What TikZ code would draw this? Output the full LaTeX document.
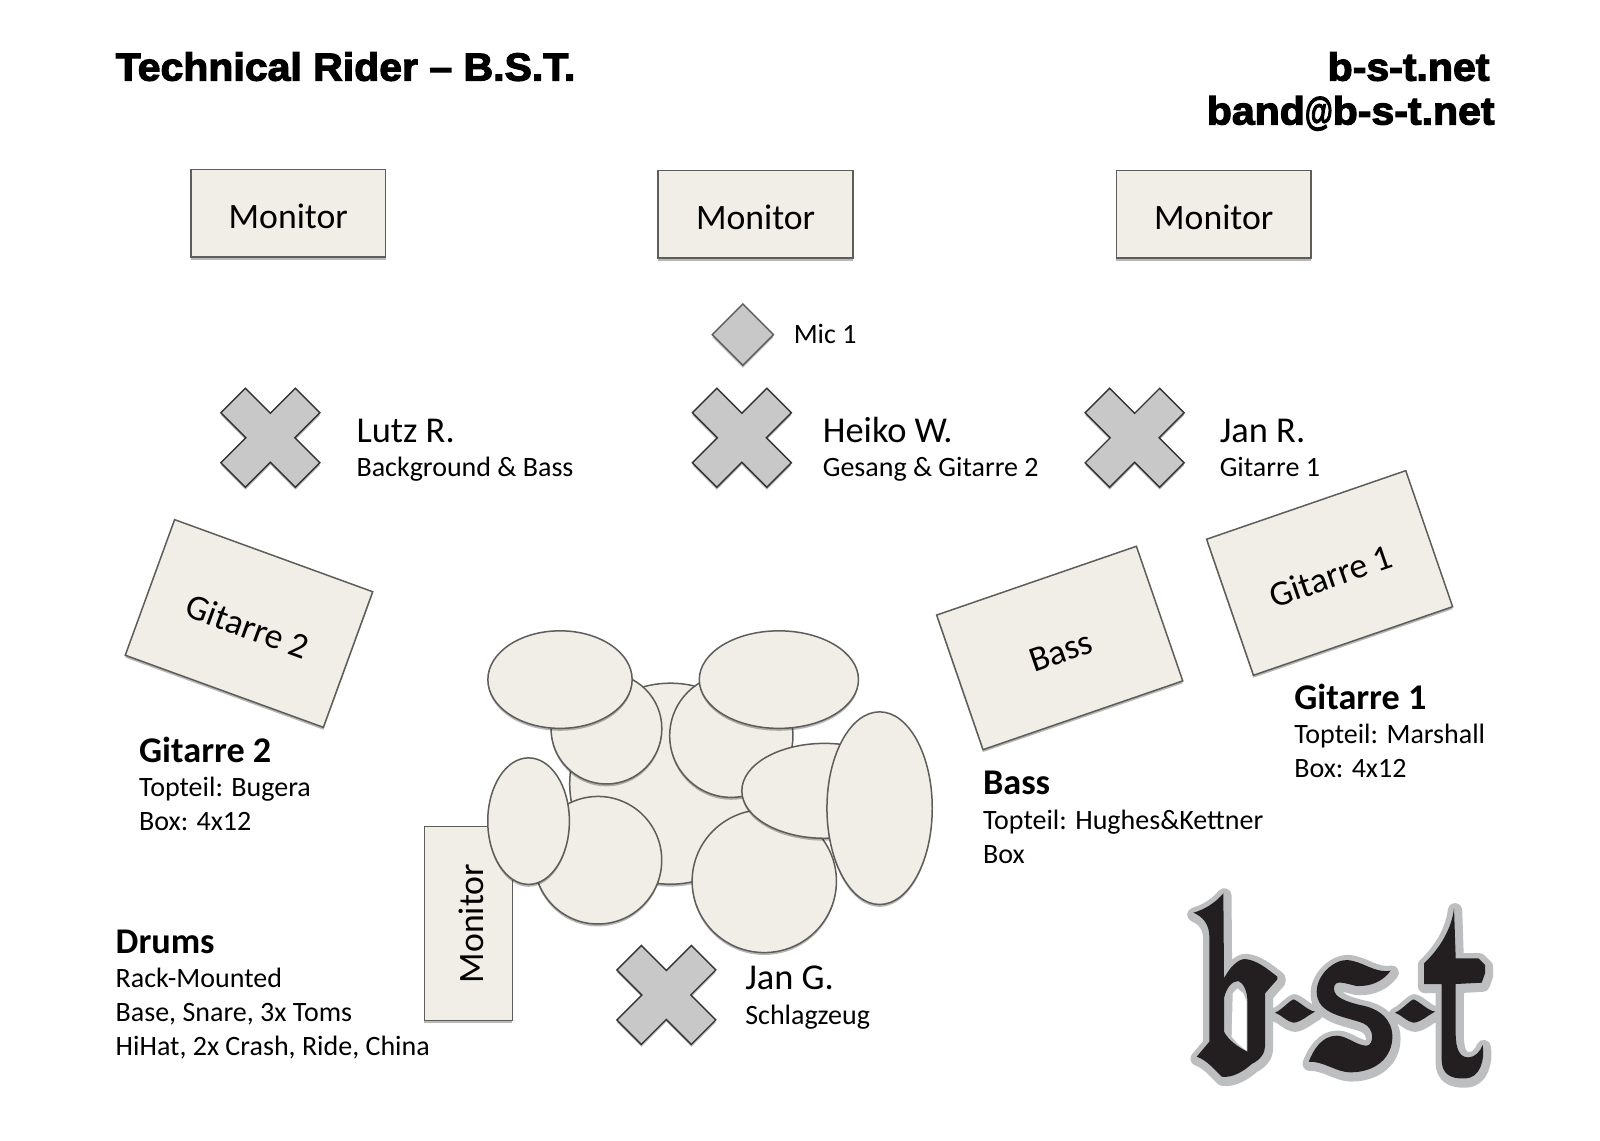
\documentclass[tikz,border=0pt]{standalone}
\usepackage{fontspec}
\usepackage{graphicx}
\setmainfont{Carlito}
\newfontfamily\blackfont[FakeBold=3,FakeStretch=1.046]{Liberation Sans Bold}
\usetikzlibrary{shapes.geometric,shadows}
\definecolor{boxfill}{HTML}{F0EEE7}
\definecolor{boxline}{HTML}{5E5D59}
\definecolor{crossfill}{HTML}{C8C8C8}
\definecolor{logodark}{HTML}{231F20}
\definecolor{logogray}{HTML}{BCBEC0}
\tikzset{
  softshadow/.style={drop shadow={shadow xshift=0pt,shadow yshift=-1.2pt,opacity=.28,fill=black}},
  boxnode/.style={draw=boxline,fill=boxfill,line width=.75pt,rectangle,inner sep=0pt,outer sep=0pt,
    minimum width=#1*.5102pt,font=\fontsize{17.85}{20}\selectfont,text height=15.2pt,text depth=0pt,softshadow},
  drum/.style n args={2}{draw=boxline,fill=boxfill,line width=.75pt,ellipse,inner sep=0pt,outer sep=0pt,
    minimum width=#1*1.0204pt,minimum height=#2*1.0204pt,softshadow},
  crossstyle/.style={draw=black!80,fill=crossfill,line width=.7pt,line join=miter,softshadow},
  persontext/.style={anchor=base west,inner sep=0pt,font=\fontsize{18.2}{20}\selectfont},
  subtext/.style={anchor=base west,inner sep=0pt,font=\fontsize{14}{16}\selectfont},
  headtext/.style={anchor=base west,inner sep=0pt,font=\fontsize{18.1}{20}\selectfont\bfseries},
  titletext/.style={inner sep=0pt,font=\blackfont\fontsize{19.6}{22}\selectfont},
  playercross/.pic={\path[crossstyle] (-24.5,-48.5)--(0,-24)--(24.5,-48.5)--(48.5,-24.5)--(24,0)--(48.5,24.5)--(24.5,48.5)--(0,24)--(-24.5,48.5)--(-48.5,24.5)--(-24,0)--(-48.5,-24.5)--cycle;}
}
\newcommand\bstOuterB{(130,158) .. controls (160,150) and (195,130) .. (220,100) -- (222,355) .. controls (240,320) and (265,297) .. (285,297) .. controls (320,300) and (350,325) .. (382,350) -- (382,358) -- (345,400) -- (345,560) .. controls (345,580) and (330,600) .. (305,612) .. controls (285,630) and (250,655) .. (215,650) .. controls (195,630) and (170,600) .. (140,590) -- (178,545) -- (178,230) .. controls (178,195) and (160,170) .. (130,158) -- cycle}
\newcommand\bstHole{(222,415) .. controls (228,385) and (245,363) .. (265,363) .. controls (280,368) and (292,395) .. (292,420) -- (292,575) .. controls (265,562) and (235,540) .. (222,515) -- cycle}
\newcommand\bstDashA{(375,458) .. controls (395,450) and (415,425) .. (430,418) .. controls (450,425) and (470,450) .. (495,455) .. controls (475,465) and (450,488) .. (430,488) .. controls (410,485) and (395,465) .. (375,458) -- cycle}
\newcommand\bstDashB{(735,458) .. controls (755,450) and (775,425) .. (790,418) .. controls (810,425) and (830,450) .. (855,455) .. controls (835,465) and (810,488) .. (790,488) .. controls (770,485) and (755,465) .. (735,458) -- cycle}
\newcommand\bstS{(500,395) .. controls (500,345) and (550,300) .. (590,300) .. controls (640,303) and (670,340) .. (722,332) .. controls (700,362) and (665,380) .. (620,378) .. controls (590,372) and (552,355) .. (552,385) .. controls (550,412) and (590,425) .. (630,435) .. controls (690,445) and (727,480) .. (727,530) .. controls (727,590) and (680,637) .. (600,637) .. controls (560,637) and (520,603) .. (476,605) .. controls (490,570) and (515,527) .. (560,527) .. controls (590,527) and (620,557) .. (650,557) .. controls (672,555) and (675,505) .. (640,490) .. controls (590,470) and (500,465) .. (500,395) -- cycle}
\newcommand\bstT{(912,145) -- (917,295) -- (985,295) -- (1005,315) -- (1005,340) -- (995,368) -- (917,372) -- (917,520) .. controls (917,570) and (930,592) .. (955,592) .. controls (975,592) and (990,575) .. (998,555) .. controls (1005,600) and (990,655) .. (945,655) .. controls (900,658) and (875,640) .. (875,600) -- (875,372) -- (822,372) -- (822,310) .. controls (870,265) and (905,205) .. (912,145) -- cycle}
\begin{document}
\begin{tikzpicture}[x=.5102pt,y=-.5102pt]
\useasboundingbox (0,0) rectangle (1568,1117.2);
\fill[white] (0,0) rectangle (1568,1117.2);

\node[titletext,anchor=base west] (title) at (113,79) {Technical Rider – B.S.T.};
\node[titletext,anchor=base east] (site) at (1460,79) {b-s-t.net};
\node[titletext,anchor=base east] (mail) at (1465,122) {band\scalebox{.7}[1]{@}b-s-t.net};

\node[boxnode=191,minimum height=86*.5102pt] (mon1) at (282.5,209) {Monitor};
\node[boxnode=191,minimum height=86*.5102pt] (mon2) at (740.5,210) {Monitor};
\node[boxnode=191,minimum height=86*.5102pt] (mon3) at (1189.5,210) {Monitor};

\node[diamond,draw=boxline,fill=crossfill,line width=.7pt,inner sep=0pt,outer sep=0pt,minimum width=30.6pt,minimum height=30.6pt,softshadow] (mic) at (728,328) {};
\node[subtext] (miclabel) at (777.5,337) {Mic 1};

\pic at (265,429) {playercross};
\pic at (727,429) {playercross};
\pic at (1112,429) {playercross};
\pic at (653,975) {playercross};

\node[persontext] (lutz) at (349,434) {Lutz R.};
\node[subtext] (lutzb) at (349,467) {Background \& Bass};
\node[persontext] (heiko) at (806,434) {Heiko W.};
\node[subtext] (heikob) at (806,467) {Gesang \& Gitarre 2};
\node[persontext] (janr) at (1195,434) {Jan R.};
\node[subtext] (janrb) at (1195,467) {Gitarre 1};
\node[persontext] (jang) at (730,970) {Jan G.};
\node[subtext] (jangb) at (730,1004) {Schlagzeug};

\node[boxnode=206.6,minimum height=141.4*.5102pt,rotate=-20] (g2) at (244,611) {Gitarre 2};
\node[boxnode=207,minimum height=139.5*.5102pt,rotate=19] (bass) at (1038.5,635) {Bass};
\node[boxnode=206.4,minimum height=141*.5102pt,rotate=19] (g1) at (1303,561.5) {Gitarre 1};

\node[headtext] (g2h) at (136,747) {Gitarre 2};
\node[subtext] (g2a) at (136,781) {Topteil: Bugera};
\node[subtext] (g2b) at (136,814) {Box: 4x12};
\node[headtext] (g1h) at (1268,695) {Gitarre 1};
\node[subtext] (g1a) at (1268,729) {Topteil: Marshall};
\node[subtext] (g1b) at (1268,762) {Box: 4x12};
\node[headtext] (bh) at (963,779) {Bass};
\node[subtext] (ba) at (963,813) {Topteil: Hughes\&Kettner};
\node[subtext] (bb) at (963,846) {Box};
\node[headtext] (dh) at (113,934) {Drums};
\node[subtext] (da) at (113,968) {Rack-Mounted};
\node[subtext] (db) at (113,1001) {Base, Snare, 3x Toms};
\node[subtext] (dc) at (113,1034) {HiHat, 2x Crash, Ride, China};

\node[boxnode=190,minimum height=86*.5102pt,rotate=90] (mon4) at (459,905) {Monitor};

\node[drum={98.7}{98.5}] (d1) at (657,768) {};
\node[drum={62.5}{62.5}] (d2) at (586,843) {};
\node[drum={54.3}{54.3}] (d3) at (594.3,714) {};
\node[drum={60.4}{60.4}] (d4) at (716.7,721) {};
\node[drum={70.7}{70}] (d5) at (749,863.5) {};
\node[drum={70.7}{47.8}] (d6) at (548.8,666) {};
\node[drum={78}{47.8}] (d7) at (763.3,666) {};
\node[drum={81}{46.5}] (d8) at (808,775) {};
\node[drum={51.6}{94.4}] (d9) at (862,792) {};
\node[drum={40}{62}] (d10) at (518,804.7) {};

\begin{scope}[shift={(1127,842.8)},x=.16667pt,y=-.16667pt]
  \begin{scope}[shift={(3,6)}]
    \path[fill=logogray,draw=logogray,line width=7.2pt,line join=round]
      \bstOuterB \bstDashA \bstDashB \bstS \bstT;
  \end{scope}
  \fill[white] (248,400) -- (262,385) -- (280,400) -- (290,425) -- (290,572) -- (262,550) -- (245,530) -- cycle;
  \fill[logodark,even odd rule] \bstOuterB \bstHole;
  \fill[logodark] \bstDashA \bstDashB \bstS \bstT;
\end{scope}
\end{tikzpicture}
\end{document}
